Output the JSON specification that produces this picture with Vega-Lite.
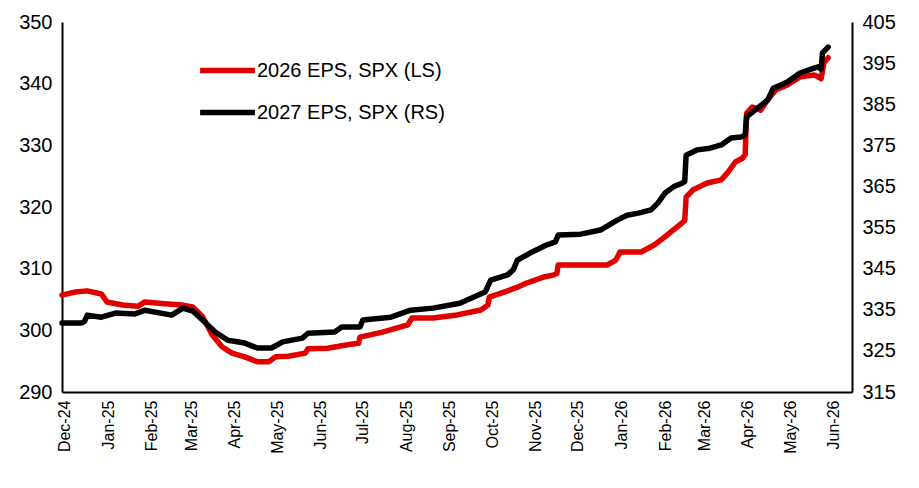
{
  "$schema": "https://vega.github.io/schema/vega-lite/v6.json",
  "width": 790,
  "height": 370,
  "autosize": {"type": "none"},
  "padding": {"left": 62, "top": 22, "right": 67, "bottom": 96},
  "background": "white",
  "config": {
    "font": "Liberation Sans",
    "view": {"stroke": null},
    "axis": {
      "grid": false,
      "ticks": false,
      "domainColor": "black",
      "domainWidth": 2,
      "labelColor": "black",
      "labelFont": "Liberation Sans",
      "title": null
    },
    "legend": {
      "orient": "none",
      "legendX": 135,
      "legendY": 18,
      "symbolType": "stroke",
      "symbolSize": 3000,
      "symbolStrokeWidth": 5.5,
      "labelFontSize": 20,
      "labelColor": "black",
      "labelFont": "Liberation Sans",
      "labelLimit": 400,
      "labelOffset": -1,
      "rowPadding": -3,
      "title": null
    }
  },
  "datasets": {
    "eps26": [
      {"date": "2024-11-29", "eps": 305.7},
      {"date": "2024-12-08", "eps": 306.2},
      {"date": "2024-12-17", "eps": 306.4},
      {"date": "2024-12-27", "eps": 305.9},
      {"date": "2024-12-31", "eps": 304.6},
      {"date": "2025-01-11", "eps": 304.1},
      {"date": "2025-01-22", "eps": 303.9},
      {"date": "2025-01-27", "eps": 304.6},
      {"date": "2025-02-10", "eps": 304.3},
      {"date": "2025-02-22", "eps": 304.1},
      {"date": "2025-03-02", "eps": 303.8},
      {"date": "2025-03-09", "eps": 302.2},
      {"date": "2025-03-16", "eps": 299.2},
      {"date": "2025-03-23", "eps": 297.3},
      {"date": "2025-03-30", "eps": 296.3},
      {"date": "2025-04-08", "eps": 295.7},
      {"date": "2025-04-17", "eps": 294.9},
      {"date": "2025-04-25", "eps": 294.9},
      {"date": "2025-04-30", "eps": 295.7},
      {"date": "2025-05-09", "eps": 295.8},
      {"date": "2025-05-21", "eps": 296.3},
      {"date": "2025-05-23", "eps": 297.0},
      {"date": "2025-06-06", "eps": 297.1},
      {"date": "2025-06-16", "eps": 297.5},
      {"date": "2025-06-24", "eps": 297.8},
      {"date": "2025-06-28", "eps": 297.9},
      {"date": "2025-06-29", "eps": 298.9},
      {"date": "2025-07-15", "eps": 299.7},
      {"date": "2025-08-02", "eps": 300.9},
      {"date": "2025-08-05", "eps": 302.0},
      {"date": "2025-08-20", "eps": 302.0},
      {"date": "2025-09-06", "eps": 302.5},
      {"date": "2025-09-23", "eps": 303.3},
      {"date": "2025-09-28", "eps": 304.1},
      {"date": "2025-09-29", "eps": 305.4},
      {"date": "2025-10-12", "eps": 306.4},
      {"date": "2025-10-19", "eps": 307.0},
      {"date": "2025-10-26", "eps": 307.7},
      {"date": "2025-11-06", "eps": 308.6},
      {"date": "2025-11-14", "eps": 309.0},
      {"date": "2025-11-16", "eps": 309.2},
      {"date": "2025-11-17", "eps": 310.6},
      {"date": "2025-12-03", "eps": 310.6},
      {"date": "2025-12-22", "eps": 310.6},
      {"date": "2025-12-28", "eps": 311.4},
      {"date": "2025-12-31", "eps": 312.7},
      {"date": "2026-01-15", "eps": 312.7},
      {"date": "2026-01-24", "eps": 313.8},
      {"date": "2026-01-31", "eps": 315.0},
      {"date": "2026-02-07", "eps": 316.3},
      {"date": "2026-02-13", "eps": 317.4},
      {"date": "2026-02-15", "eps": 317.8},
      {"date": "2026-02-16", "eps": 321.6},
      {"date": "2026-02-21", "eps": 322.8},
      {"date": "2026-03-03", "eps": 323.9},
      {"date": "2026-03-13", "eps": 324.4},
      {"date": "2026-03-18", "eps": 325.7},
      {"date": "2026-03-23", "eps": 327.3},
      {"date": "2026-03-28", "eps": 327.9},
      {"date": "2026-03-30", "eps": 328.5},
      {"date": "2026-03-31", "eps": 335.2},
      {"date": "2026-04-04", "eps": 336.2},
      {"date": "2026-04-10", "eps": 335.7},
      {"date": "2026-04-15", "eps": 337.4},
      {"date": "2026-04-21", "eps": 339.0},
      {"date": "2026-04-29", "eps": 339.8},
      {"date": "2026-05-08", "eps": 341.1},
      {"date": "2026-05-18", "eps": 341.4},
      {"date": "2026-05-21", "eps": 341.1},
      {"date": "2026-05-23", "eps": 340.8},
      {"date": "2026-05-25", "eps": 343.4},
      {"date": "2026-05-28", "eps": 344.2}
    ],
    "eps27": [
      {"date": "2024-11-29", "eps": 331.8},
      {"date": "2024-12-13", "eps": 331.8},
      {"date": "2024-12-15", "eps": 332.2},
      {"date": "2024-12-17", "eps": 333.7},
      {"date": "2024-12-27", "eps": 333.2},
      {"date": "2025-01-06", "eps": 334.2},
      {"date": "2025-01-20", "eps": 334.0},
      {"date": "2025-01-27", "eps": 334.9},
      {"date": "2025-02-15", "eps": 333.7},
      {"date": "2025-02-23", "eps": 335.4},
      {"date": "2025-03-02", "eps": 334.7},
      {"date": "2025-03-09", "eps": 332.5},
      {"date": "2025-03-18", "eps": 329.6},
      {"date": "2025-03-27", "eps": 327.6},
      {"date": "2025-04-08", "eps": 326.9},
      {"date": "2025-04-17", "eps": 325.7},
      {"date": "2025-04-27", "eps": 325.7},
      {"date": "2025-05-05", "eps": 327.2},
      {"date": "2025-05-19", "eps": 328.1},
      {"date": "2025-05-23", "eps": 329.3},
      {"date": "2025-06-11", "eps": 329.6},
      {"date": "2025-06-16", "eps": 330.8},
      {"date": "2025-06-29", "eps": 330.8},
      {"date": "2025-07-01", "eps": 332.5},
      {"date": "2025-07-21", "eps": 333.2},
      {"date": "2025-08-04", "eps": 334.9},
      {"date": "2025-08-20", "eps": 335.4},
      {"date": "2025-09-08", "eps": 336.6},
      {"date": "2025-09-18", "eps": 338.1},
      {"date": "2025-09-26", "eps": 339.3},
      {"date": "2025-09-30", "eps": 342.2},
      {"date": "2025-10-12", "eps": 343.5},
      {"date": "2025-10-16", "eps": 344.7},
      {"date": "2025-10-19", "eps": 347.1},
      {"date": "2025-10-28", "eps": 348.8},
      {"date": "2025-11-09", "eps": 350.8},
      {"date": "2025-11-15", "eps": 351.5},
      {"date": "2025-11-17", "eps": 353.2},
      {"date": "2025-12-03", "eps": 353.4},
      {"date": "2025-12-17", "eps": 354.4},
      {"date": "2025-12-29", "eps": 356.8},
      {"date": "2026-01-05", "eps": 358.0},
      {"date": "2026-01-13", "eps": 358.5},
      {"date": "2026-01-22", "eps": 359.3},
      {"date": "2026-01-27", "eps": 361.0},
      {"date": "2026-02-01", "eps": 363.4},
      {"date": "2026-02-07", "eps": 364.9},
      {"date": "2026-02-13", "eps": 365.8},
      {"date": "2026-02-15", "eps": 366.2},
      {"date": "2026-02-16", "eps": 372.6},
      {"date": "2026-02-24", "eps": 373.9},
      {"date": "2026-03-05", "eps": 374.3},
      {"date": "2026-03-13", "eps": 375.1},
      {"date": "2026-03-20", "eps": 376.8},
      {"date": "2026-03-27", "eps": 377.0},
      {"date": "2026-03-30", "eps": 377.5},
      {"date": "2026-03-31", "eps": 381.9},
      {"date": "2026-04-08", "eps": 384.1},
      {"date": "2026-04-15", "eps": 386.0},
      {"date": "2026-04-19", "eps": 388.9},
      {"date": "2026-04-29", "eps": 390.4},
      {"date": "2026-05-08", "eps": 392.6},
      {"date": "2026-05-18", "eps": 393.8},
      {"date": "2026-05-21", "eps": 394.1},
      {"date": "2026-05-23", "eps": 393.5},
      {"date": "2026-05-24", "eps": 397.5},
      {"date": "2026-05-28", "eps": 398.9}
    ]
  },
  "encoding": {
    "x": {
      "field": "date",
      "type": "temporal",
      "scale": {
        "type": "utc",
        "domain": [
          {"year": 2024, "month": 11, "date": 29, "utc": true},
          {"year": 2026, "month": 6, "date": 14, "utc": true}
        ]
      },
      "axis": {
        "format": "%b-%y",
        "tickCount": {"interval": "month", "step": 1},
        "labelAngle": 270,
        "labelFontSize": 16,
        "labelPadding": 8,
        "labelOverlap": false,
        "labelFlush": false
      }
    }
  },
  "layer": [
    {
      "data": {"name": "eps26"},
      "mark": {"type": "line", "strokeWidth": 5.5, "strokeJoin": "round", "strokeCap": "round"},
      "encoding": {
        "y": {
          "field": "eps",
          "type": "quantitative",
          "scale": {"domain": [290, 350], "nice": false, "zero": false},
          "axis": {
            "orient": "left",
            "values": [290, 300, 310, 320, 330, 340, 350],
            "labelFontSize": 20,
            "labelPadding": 10
          }
        },
        "color": {
          "datum": "2026 EPS, SPX (LS)",
          "type": "nominal",
          "scale": {
            "domain": ["2026 EPS, SPX (LS)", "2027 EPS, SPX (RS)"],
            "range": ["#e00000", "#000000"]
          }
        }
      }
    },
    {
      "data": {"name": "eps27"},
      "mark": {"type": "line", "strokeWidth": 5.5, "strokeJoin": "round", "strokeCap": "round"},
      "encoding": {
        "y": {
          "field": "eps",
          "type": "quantitative",
          "scale": {"domain": [315, 405], "nice": false, "zero": false},
          "axis": {
            "orient": "right",
            "values": [315, 325, 335, 345, 355, 365, 375, 385, 395, 405],
            "labelFontSize": 20,
            "labelPadding": 10
          }
        },
        "color": {"datum": "2027 EPS, SPX (RS)", "type": "nominal"}
      }
    }
  ],
  "resolve": {"scale": {"y": "independent"}}
}
